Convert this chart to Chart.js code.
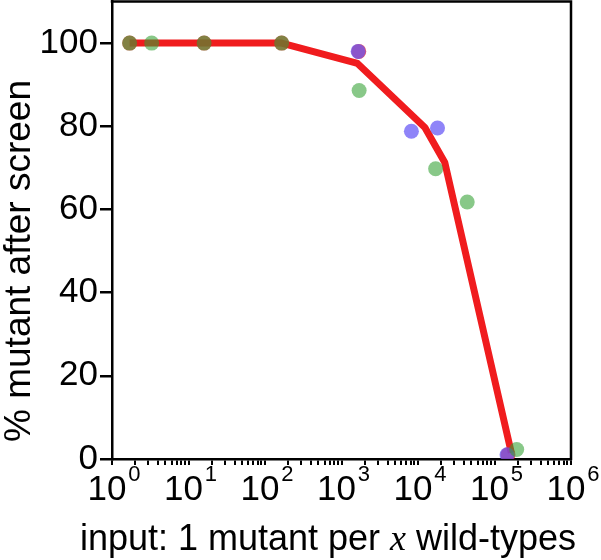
<!DOCTYPE html>
<html><head><meta charset="utf-8">
<script src="https://cdn.jsdelivr.net/npm/chart.js@4/dist/chart.umd.min.js"></script>
<style>html,body{margin:0;padding:0;background:#fff}#wrap{width:601px;height:560px}</style>
</head><body><div id="wrap"><canvas id="c" width="601" height="560"></canvas></div>
<script>
// ---- data ----
const redX = [1.7, 16, 165, 1680, 150000];
const redY = [100, 100, 100, 98.0, 1.0];
const greenX = [1.7, 3.3, 16, 165, 1700, 17000, 44000, 195000];
const greenY = [100, 100, 100, 100, 88.6, 69.8, 61.8, 2.3];
const purpleX = [1650, 8200, 18000, 146000];
const purpleY = [98.0, 78.8, 79.6, 1.0];
const fitX = [1.7, 165, 1620, 12300, 22400, 166000];
const fitY = [100, 100, 95.1, 79.7, 71.3, 1.5];
const xTickExponents = [0, 1, 2, 3, 4, 5, 6];
const yTickValues = [0, 20, 40, 60, 80, 100];
const xTitleParts = ['input: 1 mutant per ', 'x', ' wild-types'];
const yTitle = '% mutant after screen';

const toPts = (xs, ys) => xs.map((x, i) => ({x: x, y: ys[i]}));
const SANS = '"Liberation Sans", Arial, sans-serif';
const SERIF = '"Liberation Serif", "Times New Roman", serif';

const decorPlugin = {
  id: 'decor',
  afterDraw(chart) {
    const ctx = chart.ctx, a = chart.chartArea, xs = chart.scales.x;
    ctx.save();
    ctx.strokeStyle = '#000'; ctx.lineWidth = 2.5;
    ctx.beginPath();
    ctx.moveTo(a.left - 1.25, a.top); ctx.lineTo(a.right, a.top); ctx.lineTo(a.right, a.bottom + 1.25);
    ctx.stroke();
    ctx.fillStyle = '#000'; ctx.textBaseline = 'alphabetic'; ctx.textAlign = 'left';
    xTickExponents.forEach(e => {
      const px = xs.getPixelForValue(Math.pow(10, e));
      ctx.font = '35px ' + SANS; const w1 = ctx.measureText('10').width;
      ctx.font = '22px ' + SANS; const w2 = ctx.measureText(String(e)).width;
      const gap = 2, start = px - (w1 + gap + w2) / 2 + 2;
      ctx.font = '35px ' + SANS; ctx.fillText('10', start, 500);
      ctx.font = '22px ' + SANS; ctx.fillText(String(e), start + w1 + gap, 481);
    });
    const fonts = ['36px ' + SANS, 'italic 36px ' + SERIF, '36px ' + SANS];
    const widths = xTitleParts.map((t, i) => { ctx.font = fonts[i]; return ctx.measureText(t).width; });
    const total = widths.reduce((s, v) => s + v, 0);
    let cx = 328 - total / 2;
    xTitleParts.forEach((t, i) => { ctx.font = fonts[i]; ctx.fillText(t, cx, 550); cx += widths[i]; });
    ctx.translate(30, 261); ctx.rotate(-Math.PI / 2);
    ctx.font = '37px ' + SANS; ctx.textAlign = 'center';
    ctx.fillText(yTitle, 0, 0);
    ctx.restore();
  }
};

new Chart(document.getElementById('c'), {
  type: 'scatter',
  data: {
    datasets: [
      { label: 'fit', type: 'line', data: toPts(fitX, fitY), borderColor: 'rgb(240,28,30)', borderWidth: 7,
        pointRadius: 0, fill: false, tension: 0, order: 4, borderJoinStyle: 'round', borderCapStyle: 'butt' },
      { label: 'red', data: toPts(redX, redY), backgroundColor: 'rgba(235,30,40,0.75)', borderWidth: 0,
        pointRadius: 7.5, order: 3 },
      { label: 'purple', data: toPts(purpleX, purpleY), backgroundColor: 'rgba(100,85,245,0.72)', borderWidth: 0,
        pointRadius: 7.5, order: 2 },
      { label: 'green', data: toPts(greenX, greenY), backgroundColor: 'rgba(50,160,50,0.58)', borderWidth: 0,
        pointRadius: 7.5, order: 1 }
    ]
  },
  options: {
    responsive: false, devicePixelRatio: 1, animation: false,
    layout: { autoPadding: false, padding: { top: 1.5, right: 30, left: 0, bottom: 0 } },
    plugins: { legend: { display: false }, tooltip: { enabled: false } },
    scales: {
      x: {
        type: 'logarithmic', min: 1, max: 1e6,
        afterBuildTicks: s => {
          const t = [];
          for (let k = 0; k < 6; k++) for (let m = 1; m <= 9; m++) t.push({ value: m * Math.pow(10, k), major: m === 1 });
          t.push({ value: 1e6, major: true });
          s.ticks = t;
        },
        afterFit: s => { s.height = 101; s.paddingLeft = 0; s.paddingRight = 0; },
        ticks: { display: false },
        grid: { display: true, drawOnChartArea: false, drawTicks: true, tickLength: 6, color: '#000', lineWidth: 2 },
        border: { display: true, color: '#000', width: 2.5 }
      },
      y: {
        type: 'linear', min: 0, max: 110,
        afterBuildTicks: s => { s.ticks = yTickValues.map(v => ({ value: v })); },
        afterFit: s => { s.width = 112; s.paddingTop = 0; s.paddingBottom = 0; },
        ticks: { font: { family: SANS, size: 35 }, color: '#000', padding: 2 },
        grid: { display: true, drawOnChartArea: false, drawTicks: true, tickLength: 12, color: '#000', lineWidth: 2.5 },
        border: { display: true, color: '#000', width: 2.5 }
      }
    }
  },
  plugins: [decorPlugin]
});
</script></body></html>
